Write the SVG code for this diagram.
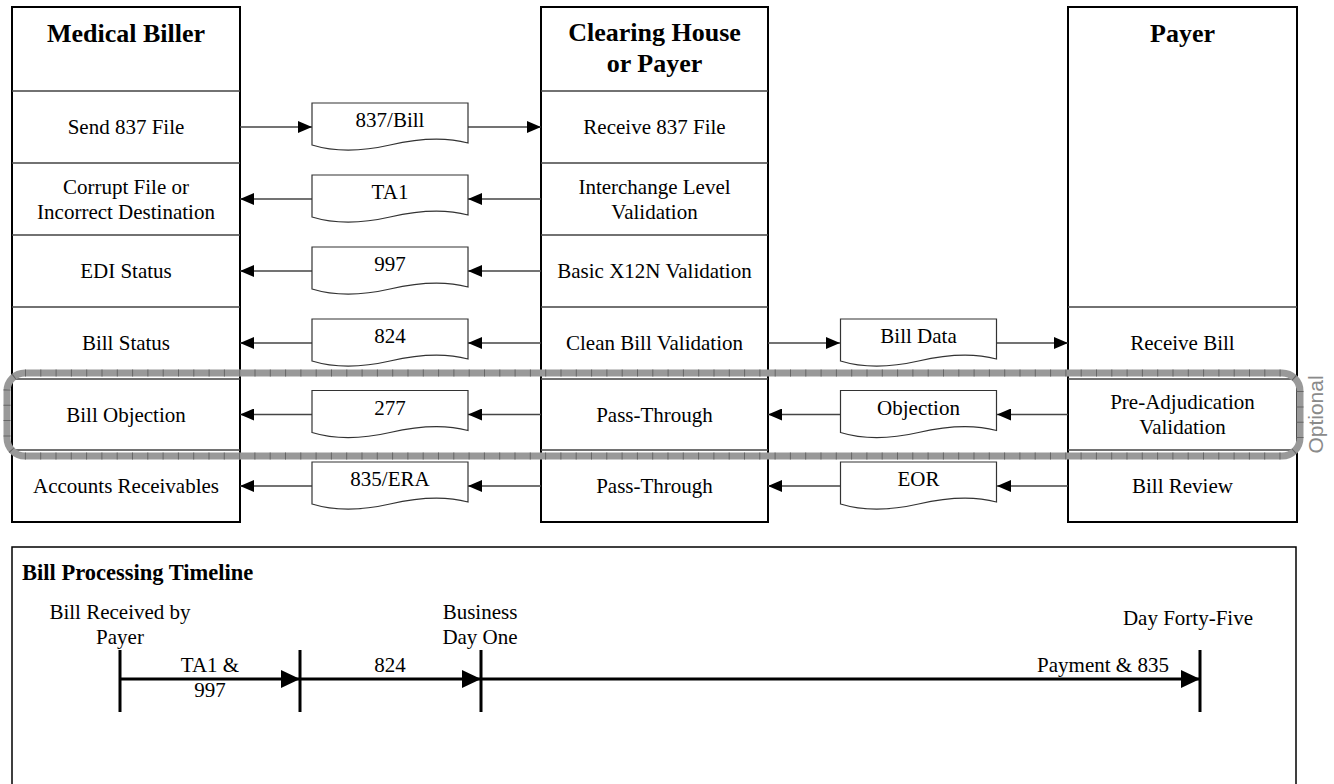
<svg xmlns="http://www.w3.org/2000/svg" width="1334" height="784" viewBox="0 0 1334 784">
<style>
.box{fill:#fff;stroke:#000;stroke-width:2}
.div{stroke:#444;stroke-width:1.3;fill:none}
.t{font-family:"Liberation Serif","Times New Roman",serif;font-size:21px;fill:#000;text-anchor:middle}
.h{font-family:"Liberation Serif","Times New Roman",serif;font-size:26px;font-weight:bold;fill:#000;text-anchor:middle}
.doc{fill:#fff;stroke:#333;stroke-width:1.2}
.con{stroke:#444;stroke-width:1.3;fill:none;marker-end:url(#ah)}
.tl{stroke:#000;stroke-width:3;fill:none;marker-end:url(#tah)}
.tick{stroke:#000;stroke-width:3}
.tt{font-family:"Liberation Serif","Times New Roman",serif;font-size:21px;fill:#000;text-anchor:middle}
</style>
<defs>
<marker id="ah" markerUnits="userSpaceOnUse" markerWidth="14" markerHeight="12" refX="14" refY="6" orient="auto"><path d="M0,0 L14,6 L0,12 Z" fill="#000"/></marker>
<marker id="tah" markerUnits="userSpaceOnUse" markerWidth="19" markerHeight="18" refX="19" refY="9" orient="auto"><path d="M0,0 L19,9 L0,18 Z" fill="#000"/></marker>
<path id="docL" d="M0,0 H156 V40 C130,33 104,36 78,42 C52,48 26,50 0,42 Z"/>
</defs>
<rect width="1334" height="784" fill="#fff"/>

<g id="medical-biller">
<rect class="box" x="12" y="7" width="228" height="515"/>
<path class="div" d="M12,91 H240 M12,163 H240 M12,235 H240 M12,307 H240 M12,379 H240 M12,450 H240"/>
<text class="h" x="126" y="42">Medical Biller</text>
<text class="t" x="126" y="134">Send 837 File</text>
<text class="t" x="126" y="193.5">Corrupt File or</text>
<text class="t" x="126" y="218.5">Incorrect Destination</text>
<text class="t" x="126" y="278">EDI Status</text>
<text class="t" x="126" y="350">Bill Status</text>
<text class="t" x="126" y="421.5">Bill Objection</text>
<text class="t" x="126" y="493">Accounts Receivables</text>
</g>

<g id="clearing-house">
<rect class="box" x="541" y="7" width="227" height="515"/>
<path class="div" d="M541,91 H768 M541,163 H768 M541,235 H768 M541,307 H768 M541,379 H768 M541,450 H768"/>
<text class="h" x="654.5" y="41">Clearing House</text>
<text class="h" x="654.5" y="72">or Payer</text>
<text class="t" x="654.5" y="134">Receive 837 File</text>
<text class="t" x="654.5" y="193.5">Interchange Level</text>
<text class="t" x="654.5" y="218.5">Validation</text>
<text class="t" x="654.5" y="278">Basic X12N Validation</text>
<text class="t" x="654.5" y="350">Clean Bill Validation</text>
<text class="t" x="654.5" y="421.5">Pass-Through</text>
<text class="t" x="654.5" y="493">Pass-Through</text>
</g>

<g id="payer">
<rect class="box" x="1068" y="7" width="229" height="515"/>
<path class="div" d="M1068,307 H1297 M1068,379 H1297 M1068,450 H1297"/>
<text class="h" x="1182.5" y="42">Payer</text>
<text class="t" x="1182.5" y="350">Receive Bill</text>
<text class="t" x="1182.5" y="409">Pre-Adjudication</text>
<text class="t" x="1182.5" y="434">Validation</text>
<text class="t" x="1182.5" y="493">Bill Review</text>
</g>

<g id="connectors">
<path class="con" d="M240,127 H312"/>
<path class="con" d="M468,127 H541"/>
<path class="con" d="M541,199 H468"/>
<path class="con" d="M312,199 H240"/>
<path class="con" d="M541,271 H468"/>
<path class="con" d="M312,271 H240"/>
<path class="con" d="M541,343 H468"/>
<path class="con" d="M312,343 H240"/>
<path class="con" d="M541,414.5 H468"/>
<path class="con" d="M312,414.5 H240"/>
<path class="con" d="M541,486 H468"/>
<path class="con" d="M312,486 H240"/>
<path class="con" d="M768,343 H840"/>
<path class="con" d="M997,343 H1068"/>
<path class="con" d="M1068,414.5 H997"/>
<path class="con" d="M840,414.5 H768"/>
<path class="con" d="M1068,486 H997"/>
<path class="con" d="M840,486 H768"/>
</g>

<g id="doc-837"><use href="#docL" class="doc" x="312" y="103"/><text class="t" x="390" y="127">837/Bill</text></g>
<g id="doc-ta1"><use href="#docL" class="doc" x="312" y="175"/><text class="t" x="390" y="199">TA1</text></g>
<g id="doc-997"><use href="#docL" class="doc" x="312" y="247"/><text class="t" x="390" y="271">997</text></g>
<g id="doc-824"><use href="#docL" class="doc" x="312" y="319"/><text class="t" x="390" y="343">824</text></g>
<g id="doc-277"><use href="#docL" class="doc" x="312" y="390.5"/><text class="t" x="390" y="414.5">277</text></g>
<g id="doc-835"><use href="#docL" class="doc" x="312" y="462"/><text class="t" x="390" y="486">835/ERA</text></g>
<g id="doc-billdata"><use href="#docL" class="doc" x="840.5" y="319"/><text class="t" x="918.5" y="343">Bill Data</text></g>
<g id="doc-objection"><use href="#docL" class="doc" x="840.5" y="390.5"/><text class="t" x="918.5" y="414.5">Objection</text></g>
<g id="doc-eor"><use href="#docL" class="doc" x="840.5" y="462"/><text class="t" x="918.5" y="486">EOR</text></g>

<g id="optional">
<rect x="7" y="373" width="1293" height="83" rx="18" fill="none" stroke="#999" stroke-width="7"/>
<rect x="7" y="373" width="1293" height="83" rx="18" fill="none" stroke="#666" stroke-width="7" stroke-dasharray="1 14.3"/>
<text transform="translate(1323,414.5) rotate(-90)" font-family="'Liberation Sans',Arial,sans-serif" font-size="21" fill="#8a8a8a" text-anchor="middle">Optional</text>
</g>

<g id="timeline">
<rect x="12" y="547" width="1284" height="260" fill="#fff" stroke="#000" stroke-width="1.5"/>
<text x="22" y="580" font-family="'Liberation Serif','Times New Roman',serif" font-size="22.5" font-weight="bold" fill="#000">Bill Processing Timeline</text>
<path class="tick" d="M120,650 V712 M300,650 V712 M481,650 V712 M1200,650 V712"/>
<path class="tl" d="M120,679 H300"/>
<path class="tl" d="M300,679 H481"/>
<path class="tl" d="M481,679 H1200"/>
<text class="tt" x="120" y="619">Bill Received by</text>
<text class="tt" x="120" y="644">Payer</text>
<text class="tt" x="480" y="619">Business</text>
<text class="tt" x="480" y="644">Day One</text>
<text class="tt" x="1188" y="625">Day Forty-Five</text>
<text class="tt" x="210" y="672">TA1 &amp;</text>
<text class="tt" x="210" y="697">997</text>
<text class="tt" x="390" y="672">824</text>
<text class="tt" x="1103" y="672">Payment &amp; 835</text>
</g>
</svg>
